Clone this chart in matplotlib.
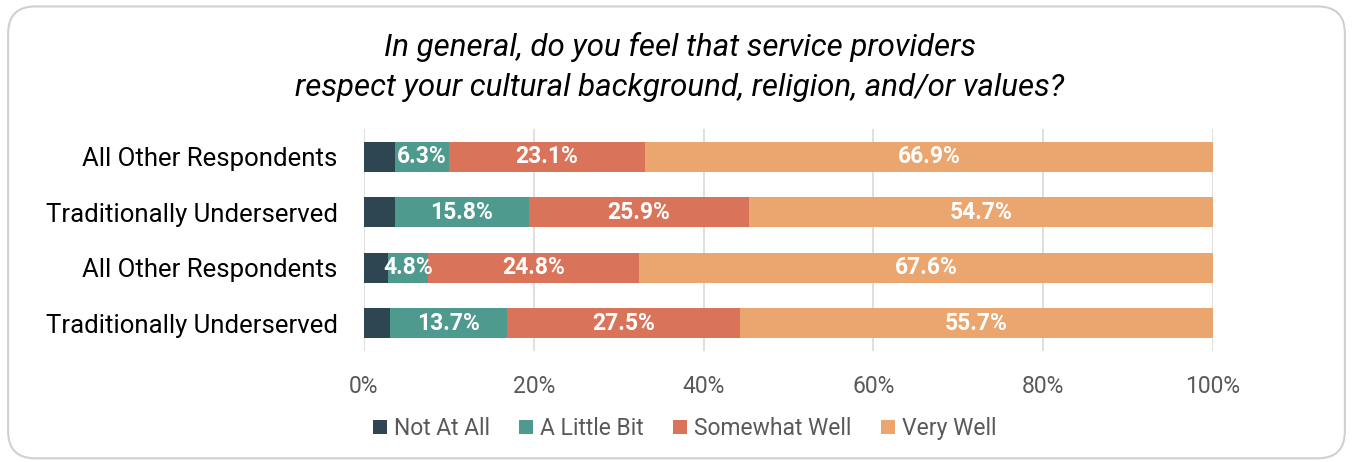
import numpy as np
import matplotlib.pyplot as plt
from matplotlib.patches import FancyBboxPatch

plt.rcParams['font.family'] = ['Roboto', 'DejaVu Sans']

groups = ['All Other Respondents', 'Traditionally Underserved',
          'All Other Respondents', 'Traditionally Underserved']
responses = ['Not At All', 'A Little Bit', 'Somewhat Well', 'Very Well']
not_at_all = [3.7, 3.6, 2.8, 3.1]
a_little_bit = [6.3, 15.8, 4.8, 13.7]
somewhat_well = [23.1, 25.9, 24.8, 27.5]
very_well = [66.9, 54.7, 67.6, 55.7]
colors = ['#2E4552', '#4E9A8E', '#D9745A', '#EBA56E']

series = [not_at_all, a_little_bit, somewhat_well, very_well]

fig = plt.figure(figsize=(13.53, 4.62), dpi=100)
border = FancyBboxPatch((0.006, 0.008), 0.988, 0.978,
                        boxstyle='round,pad=0,rounding_size=0.02',
                        transform=fig.transFigure, facecolor='white',
                        edgecolor='#D0D0D0', linewidth=1.5, zorder=-10,
                        mutation_aspect=1353/462)
fig.patches.append(border)

ax = fig.add_axes([0.269, 0.2403, 0.6275, 0.4805])
ax.set_facecolor('none')

y = np.arange(len(groups))
left = np.zeros(len(groups))
for name, vals, col in zip(responses, series, colors):
    vals = np.array(vals)
    ax.barh(y, vals, left=left, height=0.54, color=col, label=name, zorder=3)
    if name != 'Not At All':
        for yi, l, v in zip(y, left, vals):
            ax.text(l + v / 2, yi, f'{v:.1f}%', ha='center', va='center',
                    color='white', fontsize=16.5, fontweight='bold', zorder=4)
    left += vals

ax.set_xlim(0, 100)
ax.set_ylim(3.5, -0.5)
ax.set_xticks(np.arange(0, 101, 20))
ax.set_xticklabels([f'{t}%' for t in range(0, 101, 20)])
ax.set_yticks(y)
ax.set_yticklabels(groups)
ax.tick_params(axis='x', length=0, labelsize=16.5, labelcolor='#595959', pad=17)
ax.tick_params(axis='y', length=0, labelsize=18.5, labelcolor='#000000', pad=19)
ax.grid(axis='x', color='#D9D9D9', linewidth=1.2, zorder=0)
for s in ax.spines.values():
    s.set_visible(False)

fig.text(0.5025, 0.855, 'In general, do you feel that service providers\n'
         'respect your cultural background, religion, and/or values?',
         ha='center', va='center', fontsize=22.5, style='italic',
         linespacing=1.45, color='#000000')

fig.legend(loc='center', bbox_to_anchor=(0.506, 0.072), ncol=4, frameon=False,
           fontsize=16.5, handlelength=0.6, handleheight=0.6,
           handletextpad=0.3, columnspacing=1.3, labelcolor='#595959')

fig.savefig('out.png', dpi=100)
